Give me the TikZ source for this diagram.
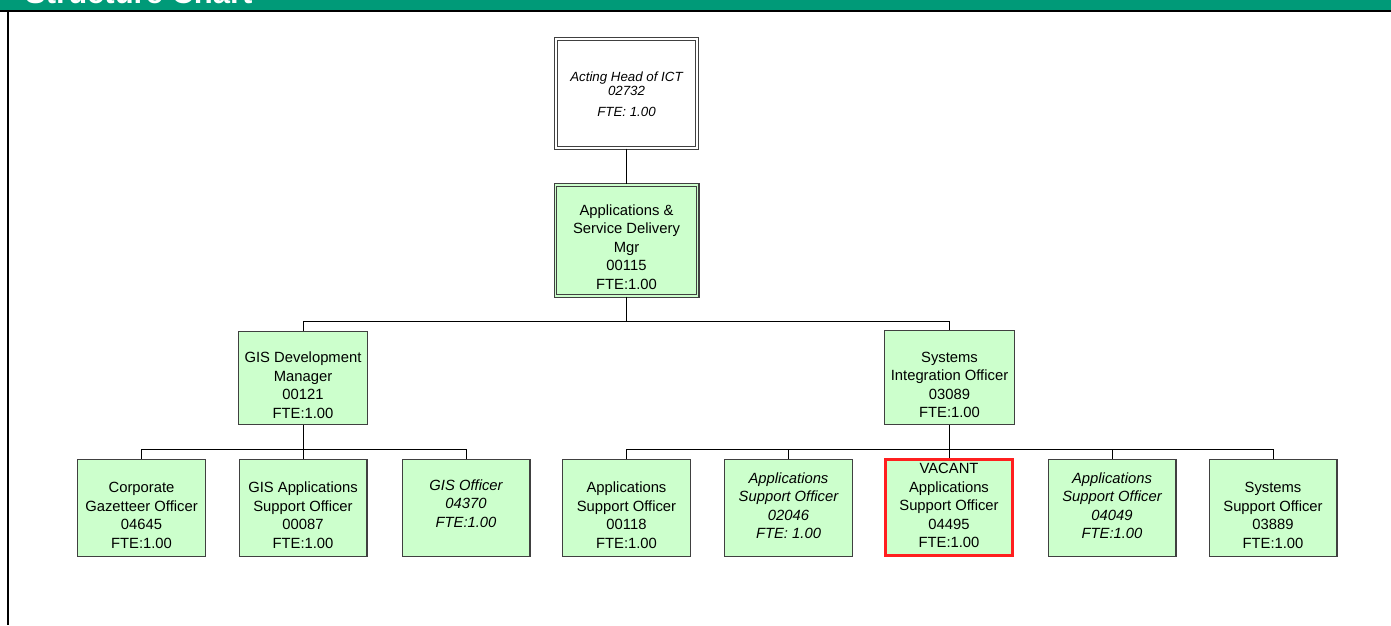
\documentclass[tikz,border=0pt]{standalone}
\usepackage{fontspec}
\setmainfont{Liberation Sans}
\definecolor{band}{HTML}{009A78}
\definecolor{leaf}{HTML}{CCFFCC}
\definecolor{edge}{HTML}{404040}
\definecolor{vacant}{HTML}{FF1F1F}
\newcommand\roletext[1]{\parbox[b]{126pt}{\centering #1}}
\tikzset{
  post/.style={draw=edge, line width=1.3pt, fill=leaf, inner sep=0pt,
    minimum width=127.7pt, minimum height=96.7pt,
    text depth=4pt, text height=84pt, font=\fontsize{14.8}{18.5}\selectfont},
  ital/.style={font=\fontsize{14.8}{18.5}\selectfont\itshape},
  dbl/.style={draw=edge, double=#1, double distance=1.5pt, line width=1.1pt},
  wire/.style={draw=black, line width=1pt}
}
\begin{document}
\begin{tikzpicture}[x=1pt,y=-1pt]
\useasboundingbox (0,0) rectangle (1391,625);
% header band
\fill[band] (0,0) rectangle (1391,9.5);
\begin{scope}
\clip (0,0) rectangle (1391,9.5);
\node[anchor=base west, inner sep=0pt, text=white, font=\bfseries\fontsize{31}{31}\selectfont] (title) at (25,3) {Structure Chart};
\end{scope}
\draw[line width=2pt] (0,10.5) -- (1391,10.5);
\draw[line width=1.3pt] (8,10) -- (8,625);
% head and manager
\node[post, dbl=white, fill=white, minimum width=141.3pt, minimum height=109.3pt,
  font=\fontsize{13.3}{13.5}\selectfont\itshape, text height=49pt] (head) at (626.5,93.5)
  {\roletext{Acting Head of ICT\\02732\\[7.5pt]FTE: 1.00}};
\node[post, dbl=leaf, minimum width=142.3pt, minimum height=111.3pt, text height=101pt] (asdm) at (626.5,240.5)
  {\roletext{Applications \&\\Service Delivery\\Mgr\\00115\\FTE:1.00}};
% second level
\node[post, minimum width=128.7pt, minimum height=92.7pt] (gisdev) at (303,378)
  {\roletext{GIS Development\\Manager\\00121\\FTE:1.00}};
\node[post, minimum width=129.7pt, minimum height=93.7pt] (sysint) at (949.5,377.5)
  {\roletext{Systems\\Integration Officer\\03089\\FTE:1.00}};
% third level
\node[post] (corp) at (141.5,508) {\roletext{Corporate\\Gazetteer Officer\\04645\\FTE:1.00}};
\node[post] (gisapp) at (303,508) {\roletext{GIS Applications\\Support Officer\\00087\\FTE:1.00}};
\node[post, ital, text height=42pt] (gisoff) at (466,508) {\roletext{GIS Officer\\04370\\FTE:1.00}};
\node[post] (aso1) at (626.5,508) {\roletext{Applications\\Support Officer\\00118\\FTE:1.00}};
\node[post, ital, text height=65pt] (aso2) at (788.5,508) {\roletext{Applications\\Support Officer\\02046\\FTE: 1.00}};
\node[post, draw=vacant, line width=2.6pt, minimum width=127.4pt, minimum height=96pt] (aso3) at (949,507.5)
  {\roletext{VACANT\\Applications\\Support Officer\\04495\\FTE:1.00}};
\node[post, ital, text height=65pt] (aso4) at (1112,508) {\roletext{Applications\\Support Officer\\04049\\FTE:1.00}};
\node[post] (sso) at (1273,508) {\roletext{Systems\\Support Officer\\03889\\FTE:1.00}};
% connectors
\draw[wire] (head) -- (asdm);
\coordinate (bus1) at (626.5,321);
\draw[wire] (asdm.south) -- (bus1) -| (gisdev.north);
\draw[wire] (bus1) -| (sysint.north);
\coordinate (bus2) at (303,449.5);
\draw[wire] (gisdev.south) -- (bus2);
\foreach \n in {corp,gisapp,gisoff} \draw[wire] (bus2) -| (\n.north);
\coordinate (bus3) at (949.5,449.5);
\draw[wire] (sysint.south) -- (bus3);
\foreach \n in {aso1,aso2,aso3,aso4,sso} \draw[wire] (bus3) -| (\n.north);
\end{tikzpicture}
\end{document}
